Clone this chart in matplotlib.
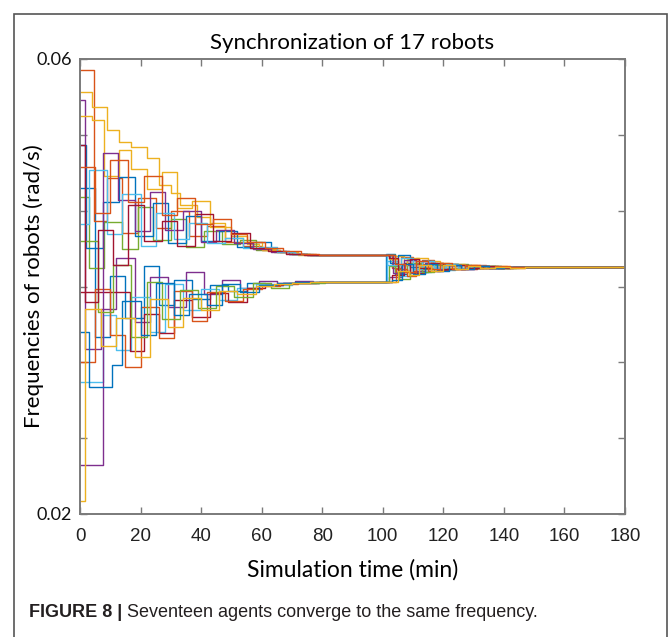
import matplotlib
matplotlib.use("Agg")
import matplotlib.pyplot as plt
import numpy as np
from matplotlib.patches import Rectangle

# step updates of every robot: update times (min) and frequencies (mrad/s)
r01_t = [0, 5, 10, 15, 21, 26, 31, 37, 43, 49, 55, 61, 67, 73, 79,
         101, 104, 108, 111, 115, 119, 123, 127, 132, 137, 142, 148]
r01_f = [48.7, 35.6, 40.9, 37.2, 41.8, 38.4, 40.6, 38.9, 40.1, 39.6, 40.3, 40.1, 40.3, 40.35, 40.4,
         42.9, 41.1, 42.3, 41.3, 42.0, 41.5, 41.9, 41.6, 41.8, 41.65, 41.73, 41.7]

r02_t = [0, 4.5, 9, 14, 19, 25, 30, 36, 42, 48, 54, 60, 66, 72, 78,
         103, 106, 110, 113, 117, 121, 125, 129, 134, 139, 144, 150]
r02_f = [59.0, 45.8, 49.5, 44.7, 47.8, 45.1, 46.6, 44.4, 45.3, 43.9, 43.6, 43.2, 43.0, 42.9, 42.8,
         41.6, 42.6, 41.4, 42.3, 41.5, 42.0, 41.6, 41.85, 41.65, 41.75, 41.68, 41.7]

r03_t = [0, 4, 9, 13, 17, 22, 26, 30, 33, 38.5, 43, 50, 55, 59, 65, 70, 76,
         104, 107, 111, 115, 118, 122, 126, 131, 136, 141, 147]
r03_f = [57.1, 55.8, 53.8, 52.7, 52.3, 51.3, 48.9, 48.2, 47.2, 46.1, 45.2, 44.4, 43.7, 43.3, 43.0, 42.9, 42.8,
         42.7, 42.0, 42.5, 41.6, 42.1, 41.55, 41.9, 41.6, 41.78, 41.68, 41.7]

r04_t = [0, 1.5, 7, 12, 18, 23, 29, 35, 41, 47, 53, 59, 65, 71, 77,
         102, 106, 109, 113, 116, 120, 124, 128, 133, 138, 143, 149]
r04_f = [56.4, 34.5, 38.0, 42.5, 36.9, 40.8, 38.2, 41.3, 39.3, 40.6, 39.9, 40.5, 40.3, 40.45, 40.4,
         40.8, 41.9, 41.2, 42.2, 41.4, 41.95, 41.55, 41.82, 41.62, 41.75, 41.68, 41.7]

r05_t = [0, 3, 8, 14, 19, 24, 30, 35, 41, 47, 53, 58, 64, 70, 76,
         104, 108, 112, 116, 120, 124, 128, 132, 137, 142, 147]
r05_f = [47.9, 41.6, 45.7, 43.3, 47.0, 44.1, 45.9, 43.5, 44.9, 43.7, 44.1, 43.2, 43.0, 42.85, 42.8,
         41.3, 42.4, 41.5, 42.1, 41.55, 41.95, 41.6, 41.8, 41.66, 41.73, 41.7]

r06_t = [0, 7.5, 12, 17, 23, 28, 34, 40, 46, 52, 58, 64, 70, 76,
         101.5, 105, 109, 112, 116, 120, 124, 129, 134, 139, 145]
r06_f = [31.6, 37.5, 34.4, 39.1, 36.0, 40.2, 37.9, 39.8, 38.8, 39.9, 40.2, 40.1, 40.3, 40.4,
         42.2, 40.9, 42.0, 41.3, 41.9, 41.45, 41.85, 41.6, 41.78, 41.66, 41.7]

r07_t = [0, 16.5, 21, 26, 31, 37, 43, 49, 55, 61, 67, 73, 79,
         103, 107, 110, 114, 118, 122, 126, 131, 135, 140, 146]
r07_f = [39.5, 34.3, 37.6, 35.9, 38.8, 37.3, 39.4, 38.6, 39.9, 40.1, 40.3, 40.35, 40.4,
         41.0, 42.1, 41.2, 41.95, 41.45, 41.85, 41.55, 41.8, 41.65, 41.74, 41.7]

r08_t = [0, 2, 7.5, 13, 18, 24, 29, 35, 40, 46, 52, 57, 63, 69, 75,
         102.5, 105, 109, 113, 117, 121, 125, 130, 135, 140, 145]
r08_f = [52.4, 43.4, 47.4, 49.6, 44.4, 47.3, 43.8, 46.2, 44.0, 44.9, 43.5, 43.9, 43.1, 42.9, 42.8,
         42.1, 42.8, 41.7, 42.2, 41.6, 42.0, 41.6, 41.8, 41.67, 41.73, 41.7]

r09_t = [0, 5, 10, 15, 20, 26, 31, 37, 42, 48, 54, 60, 66, 72, 78,
         104.5, 108, 111, 115, 119, 123, 127, 131, 136, 141, 147]
r09_f = [33.4, 39.8, 35.7, 32.9, 38.2, 35.5, 39.6, 37.0, 39.5, 38.7, 39.8, 40.0, 40.25, 40.35, 40.4,
         41.5, 40.9, 42.0, 41.35, 41.9, 41.5, 41.82, 41.6, 41.74, 41.67, 41.7]

r10_t = [0, 4, 8, 13, 17, 22, 27, 32, 37, 43, 48, 54, 60, 66, 72,
         102, 105, 108, 112, 116, 119, 123, 127, 132, 137, 142, 148]
r10_f = [55.0, 54.6, 49.7, 52.0, 50.3, 48.6, 50.1, 46.9, 47.5, 45.6, 44.3, 43.9, 43.2, 43.0, 42.8,
         42.4, 41.9, 42.5, 41.7, 42.2, 41.6, 41.95, 41.62, 41.8, 41.67, 41.72, 41.7]

r11_t = [0, 7.5, 12.5, 18, 23, 28, 34, 40, 45, 51, 57, 63, 69, 75,
         103.5, 107, 111, 114, 118, 122, 126, 130, 135, 140, 146]
r11_f = [24.3, 51.7, 47.6, 44.9, 48.3, 45.0, 46.6, 43.9, 45.0, 43.8, 43.3, 43.05, 42.9, 42.8,
         41.2, 42.3, 41.4, 42.1, 41.5, 41.9, 41.58, 41.8, 41.66, 41.73, 41.7]

r12_t = [0, 6, 11, 17, 22, 27, 33, 39, 45, 51, 57, 63, 69, 75, 81,
         102, 105.5, 109, 113, 117, 121, 125, 129, 134, 139, 144, 150]
r12_f = [44.0, 37.8, 41.9, 35.6, 40.4, 37.1, 39.7, 38.1, 40.0, 39.1, 40.3, 39.9, 40.3, 40.35, 40.4,
         41.8, 40.7, 42.1, 41.3, 41.9, 41.5, 41.85, 41.6, 41.76, 41.66, 41.72, 41.7]

r13_t = [0, 3, 9, 14, 20, 25, 31, 36, 42, 48, 54, 59, 65, 71, 77,
         101.5, 106, 110, 113, 117, 121, 125, 129, 134, 139, 144, 149]
r13_f = [45.5, 50.2, 44.6, 48.1, 43.6, 46.5, 44.2, 45.6, 43.8, 44.3, 43.4, 43.5, 43.0, 42.9, 42.8,
         41.9, 42.5, 41.5, 42.2, 41.6, 42.0, 41.6, 41.84, 41.64, 41.75, 41.68, 41.7]

r14_t = [0, 1.5, 6, 11, 16, 21, 27, 32, 38, 44, 50, 56, 62, 68, 74,
         102, 105, 109, 112, 116, 120, 124, 128, 133, 138, 143, 148]
r14_f = [52.4, 38.6, 45.0, 41.9, 47.2, 44.0, 45.8, 43.6, 46.4, 44.0, 44.7, 43.4, 43.1, 42.9, 42.8,
         42.5, 41.4, 42.4, 41.6, 42.1, 41.55, 41.9, 41.6, 41.78, 41.67, 41.72, 41.7]

r15_t = [0, 3, 10.5, 14, 20, 25, 31, 36, 42, 47, 53, 59, 65, 71, 77,
         103, 106.5, 110, 114, 118, 122, 126, 130, 135, 140, 145]
r15_f = [36.0, 31.2, 33.1, 38.7, 35.7, 40.3, 37.5, 39.3, 38.4, 40.2, 39.5, 40.1, 40.3, 40.4, 40.4,
         40.6, 42.0, 41.1, 41.95, 41.4, 41.88, 41.55, 41.8, 41.64, 41.74, 41.7]

r16_t = [0, 5, 10, 16, 21, 27, 32, 38, 44, 50, 55, 61, 67, 73, 79,
         104, 107.5, 111, 115, 119, 123, 127, 132, 137, 142, 148]
r16_f = [50.5, 46.5, 51.1, 47.4, 49.7, 46.3, 47.8, 45.5, 45.9, 44.6, 43.9, 43.4, 43.1, 42.9, 42.8,
         42.0, 41.3, 42.25, 41.5, 42.05, 41.55, 41.88, 41.62, 41.76, 41.68, 41.7]

r17_t = [0, 1.7, 7, 12, 18, 23, 29, 34, 40, 46, 52, 58, 64, 70, 76,
         105, 108.5, 112, 116, 120, 124, 128, 132, 137, 142, 147]
r17_f = [21.1, 38.0, 34.8, 37.2, 33.8, 38.9, 36.4, 39.0, 37.9, 39.6, 39.3, 40.0, 40.2, 40.35, 40.4,
         41.4, 41.0, 41.9, 41.35, 41.85, 41.5, 41.8, 41.62, 41.75, 41.67, 41.7]

robots = [(r01_t, r01_f), (r02_t, r02_f), (r03_t, r03_f), (r04_t, r04_f), (r05_t, r05_f),
          (r06_t, r06_f), (r07_t, r07_f), (r08_t, r08_f), (r09_t, r09_f), (r10_t, r10_f),
          (r11_t, r11_f), (r12_t, r12_f), (r13_t, r13_f), (r14_t, r14_f), (r15_t, r15_f),
          (r16_t, r16_f), (r17_t, r17_f)]

x_ticks = [0, 20, 40, 60, 80, 100, 120, 140, 160, 180]
y_tick_labels = ['0.02', '', '', '', '', '', '0.06']

t_end = 180
# default matlab line colour order
line_colors = ['#0072BD', '#D95319', '#EDB120', '#7E2F8E', '#77AC30', '#4DBEEE', '#A2142F']


def main():

    fig = plt.figure(figsize=(6.69, 6.37), dpi=100)
    ax = fig.add_axes([80 / 669, 1 - 514 / 637, 545 / 669, 455 / 637])

    for i, (t, f) in enumerate(robots):
        tt = np.append(t, t_end)
        ff = np.append(f, f[-1]) * 1e-3
        ax.step(tt, ff, where='post', color=line_colors[i % 7], linewidth=1.0)

    ax.set_xlim(0, 180)
    ax.set_ylim(0.02, 0.06)
    ax.set_xticks(x_ticks)
    ax.set_yticks(np.linspace(0.02, 0.06, 7))
    ax.set_yticklabels(y_tick_labels)

    gray = '#7a7a7a'
    for sp in ax.spines.values():
        sp.set_color(gray)
        sp.set_linewidth(1.4)
    ax.tick_params(direction='in', length=5, width=1, color=gray,
                   top=True, right=True)
    ax.tick_params(axis='x', pad=10, labelsize=13.5, labelcolor='#222222')
    ax.tick_params(axis='y', pad=6, labelsize=13, labelcolor='#111111')
    for lbl in ax.get_xticklabels():
        lbl.set_family('Liberation Sans')
    for lbl in ax.get_yticklabels():
        lbl.set_family('Lato')

    ax.set_title('Synchronization of 17 robots', family='Lato', fontsize=16, pad=7)
    ax.set_xlabel('Simulation time (min)', family='Lato', fontsize=16.5)
    ax.set_ylabel('Frequencies of robots (rad/s)', family='Lato', fontsize=16)
    ax.xaxis.set_label_coords(0.5, -0.1)
    ax.yaxis.set_label_coords(-0.066, 0.5)

    # outer frame of the figure panel
    fig.patches.append(Rectangle((14 / 669, -0.02), 653 / 669, 1 - 14 / 637 + 0.02,
                                 transform=fig.transFigure, fill=False,
                                 edgecolor='#555555', linewidth=1.2))

    cap1 = fig.text(29 / 669, 1 - 621 / 637, 'FIGURE 8 |', family='Liberation Sans',
                    fontweight='bold', fontsize=13, color='#231f20', va='bottom')
    ax.annotate(' Seventeen agents converge to the same frequency.', xy=(1, 0),
                xycoords=cap1, va='bottom', ha='left', family='Liberation Sans',
                fontsize=13, color='#231f20', annotation_clip=False)

    fig.savefig('out.png', dpi=100)


if __name__ == "__main__":
    main()
